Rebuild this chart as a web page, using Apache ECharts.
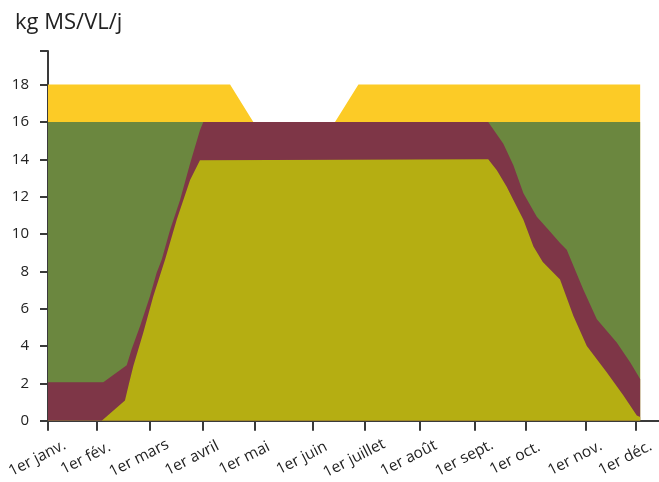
<!DOCTYPE html>
<html>
<head>
<meta charset="utf-8">
<script src="https://cdn.jsdelivr.net/npm/echarts@6/dist/echarts.min.js"></script>
<style>html,body{margin:0;padding:0;background:#fff}#c{width:659px;height:482px}</style>
</head>
<body>
<div id="c"></div>
<script>
// x = day of year (0 = 1er janv.), y = kg MS/VL/j
const monthLabels = ['1er janv.','1er fév.','1er mars','1er avril','1er mai','1er juin','1er juillet','1er août','1er sept.','1er oct.','1er nov.','1er déc.'];
const monthTicks = [0, 27.5, 57.8, 87.8, 117.6, 150.2, 180, 210.9, 242.5, 271.3, 305.4, 333.9];
const yTicks = [0, 2, 4, 6, 8, 10, 12, 14, 16, 18];

const yellowTop = [[0,18],[103.4,18],[116.6,16],[163,16],[176.3,18],[336.3,18]];
const greenTop = [[0,16],[336.3,16]];
const maroonTop = [[0,2.06],[31.4,2.06],[44.7,2.98],[47.5,3.83],[52.3,5.07],[57.9,6.67],[61.7,7.92],[64.6,8.63],[69.3,10.22],[75,11.82],[80.7,13.77],[86.3,15.55],[88.2,16],[250,16],[258.6,14.84],[264.3,13.68],[270,12.18],[277.6,10.93],[285.1,10.13],[290.8,9.52],[294.6,9.16],[304,7.03],[311.7,5.43],[323,4.19],[330.6,3.13],[336.3,2.24]];
const oliveTop = [[0,0],[30.5,0],[43.7,1.08],[46,2.0],[48.5,2.95],[54.1,4.72],[59.8,6.67],[66.5,8.63],[73.1,10.76],[80.7,12.89],[86.3,13.95],[87.3,14],[250,14],[254.9,13.42],[260.5,12.53],[264.3,11.82],[270,10.76],[275.7,9.33],[281,8.5],[290.8,7.56],[298.4,5.61],[306,4.01],[317.4,2.59],[326.8,1.35],[334.4,0.28],[336.3,0.2]];

const FONT = '"Open Sans", "Noto Sans", sans-serif';
const axisCol = '#3a3a3a';

function area(name, data, color) {
  return {
    name: name, type: 'line', data: data, symbol: 'none', silent: true,
    lineStyle: { width: 0 }, areaStyle: { color: color, opacity: 1 },
    animation: false
  };
}

const chart = echarts.init(document.getElementById('c'));
chart.setOption({
  animation: false,
  title: {
    text: 'kg MS/VL/j', left: 10, top: 7,
    textStyle: { fontFamily: FONT, fontSize: 22, fontWeight: 'normal', color: '#222' }
  },
  grid: { left: 48, right: 0, top: 51, bottom: 59, containLabel: false },
  xAxis: {
    type: 'value', min: 0, max: 347,
    splitLine: { show: false },
    axisLine: { show: true, lineStyle: { color: axisCol, width: 2 } },
    axisTick: { show: true, length: 10, lineStyle: { color: axisCol, width: 2 }, customValues: monthTicks },
    axisLabel: {
      customValues: monthTicks,
      rotate: 27, align: 'center', verticalAlign: 'middle', margin: 32,
      padding: [0, 24, 0, 0],
      fontFamily: FONT, fontSize: 15.5, color: '#222',
      formatter: function (v) {
        const i = monthTicks.indexOf(v);
        return i >= 0 ? monthLabels[i] : '';
      }
    }
  },
  yAxis: {
    type: 'value', min: 0, max: 19.8,
    splitLine: { show: false },
    axisLine: { show: true, lineStyle: { color: axisCol, width: 2 } },
    axisTick: { show: true, length: 8, lineStyle: { color: axisCol, width: 2 }, customValues: yTicks.concat([19.8]) },
    axisLabel: {
      customValues: yTicks, margin: 19,
      fontFamily: FONT, fontSize: 15, color: '#222'
    }
  },
  series: [
    area('jaune', yellowTop, '#FCCB26'),
    area('vert', greenTop, '#6B873F'),
    area('bordeaux', maroonTop, '#7E3647'),
    area('olive', oliveTop, '#B5AE12')
  ]
});
</script>
</body>
</html>
